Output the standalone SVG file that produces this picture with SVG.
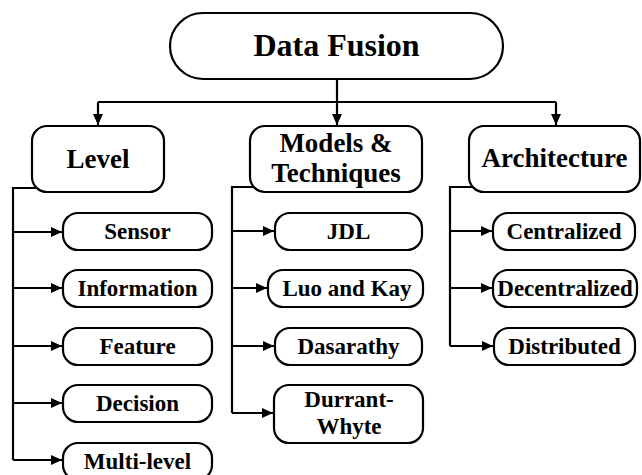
<svg xmlns="http://www.w3.org/2000/svg" width="642" height="475" viewBox="0 0 642 475">
<style>
.box{fill:#fff;stroke:#000;stroke-width:2.2}
.t{font-family:'Liberation Serif','Times New Roman',serif;font-weight:bold;fill:#000;text-anchor:middle}
.big{font-size:32px}
.mid{font-size:27px}
.sm{font-size:23px}
.c{fill:none;stroke:#000;stroke-width:2.2}
</style>
<defs>
<marker id="ah" markerUnits="userSpaceOnUse" markerWidth="12" markerHeight="10" refX="11" refY="5" orient="auto">
<path d="M0,0 L11,5 L0,10 Z" fill="#000"/>
</marker>
</defs>
<rect width="642" height="475" fill="#fff"/>
<g id="connectors">
<path class="c" d="M337,79 V125" marker-end="url(#ah)"/>
<path class="c" d="M98,102 H556"/>
<path class="c" d="M98,102 V125" marker-end="url(#ah)"/>
<path class="c" d="M556,102 V125" marker-end="url(#ah)"/>
<path class="c" d="M36,188 H13 V460"/>
<path class="c" d="M13,232 H62" marker-end="url(#ah)"/>
<path class="c" d="M13,288 H62" marker-end="url(#ah)"/>
<path class="c" d="M13,346 H62" marker-end="url(#ah)"/>
<path class="c" d="M13,403 H62" marker-end="url(#ah)"/>
<path class="c" d="M13,460 H62" marker-end="url(#ah)"/>
<path class="c" d="M254,187 H232 V413"/>
<path class="c" d="M232,231 H274" marker-end="url(#ah)"/>
<path class="c" d="M232,288 H267" marker-end="url(#ah)"/>
<path class="c" d="M232,346 H274" marker-end="url(#ah)"/>
<path class="c" d="M232,413 H273" marker-end="url(#ah)"/>
<path class="c" d="M473,187 H450 V346"/>
<path class="c" d="M450,231 H492" marker-end="url(#ah)"/>
<path class="c" d="M450,288 H492" marker-end="url(#ah)"/>
<path class="c" d="M450,346 H493" marker-end="url(#ah)"/>
</g>
<g id="data-fusion"><rect class="box" x="170" y="13" width="333" height="66" rx="33"/><text class="t big" x="336.5" y="56">Data Fusion</text></g>
<g id="level"><rect class="box" x="32" y="126" width="132" height="66" rx="15"/><text class="t mid" x="98" y="168">Level</text></g>
<g id="models"><rect class="box" x="250" y="126" width="172" height="66" rx="15"/><text class="t mid" x="336" y="152">Models &amp;</text><text class="t mid" x="336" y="182">Techniques</text></g>
<g id="architecture"><rect class="box" x="469" y="126" width="171" height="66" rx="15"/><text class="t mid" x="554.5" y="167">Architecture</text></g>
<g id="sensor"><rect class="box" x="63" y="213" width="149" height="37" rx="15"/><text class="t sm" x="137.5" y="239">Sensor</text></g>
<g id="information"><rect class="box" x="63" y="270" width="149" height="37" rx="15"/><text class="t sm" x="137.5" y="296">Information</text></g>
<g id="feature"><rect class="box" x="63" y="328" width="149" height="37" rx="15"/><text class="t sm" x="137.5" y="354">Feature</text></g>
<g id="decision"><rect class="box" x="63" y="385" width="149" height="37" rx="15"/><text class="t sm" x="137.5" y="411">Decision</text></g>
<g id="multi-level"><rect class="box" x="63" y="443" width="149" height="37" rx="15"/><text class="t sm" x="137.5" y="469">Multi-level</text></g>
<g id="jdl"><rect class="box" x="275" y="213" width="147" height="37" rx="15"/><text class="t sm" x="348.5" y="239">JDL</text></g>
<g id="luo-kay"><rect class="box" x="268" y="270" width="155" height="37" rx="15"/><text class="t sm" x="347" y="296">Luo and Kay</text></g>
<g id="dasarathy"><rect class="box" x="275" y="328" width="147" height="37" rx="15"/><text class="t sm" x="348.5" y="354">Dasarathy</text></g>
<g id="durrant-whyte"><rect class="box" x="274" y="385" width="149" height="58" rx="15"/><text class="t sm" x="349" y="407">Durrant-</text><text class="t sm" x="349" y="434">Whyte</text></g>
<g id="centralized"><rect class="box" x="493" y="213" width="142" height="37" rx="15"/><text class="t sm" x="564" y="239">Centralized</text></g>
<g id="decentralized"><rect class="box" x="493" y="270" width="144" height="37" rx="15"/><text class="t sm" x="565" y="296">Decentralized</text></g>
<g id="distributed"><rect class="box" x="494" y="328" width="141" height="37" rx="15"/><text class="t sm" x="564.5" y="354">Distributed</text></g>
</svg>
